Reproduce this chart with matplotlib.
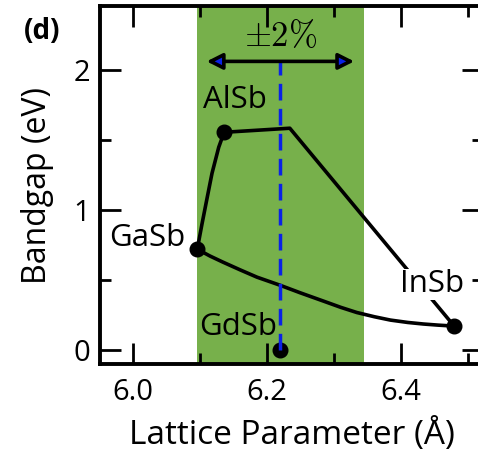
import matplotlib

matplotlib.use("Agg")
import matplotlib.pyplot as plt
from matplotlib.ticker import MultipleLocator

plt.rcParams["font.family"] = ["Open Sans", "DejaVu Sans"]
plt.rcParams["mathtext.fontset"] = "cm"

# binary end points: lattice parameter (Å), bandgap (eV)
names = ["AlSb", "GaSb", "InSb", "GdSb"]
lattice = [6.136, 6.096, 6.479, 6.220]
gap = [1.557, 0.721, 0.171, 0.0]

# ternary alloy curves
alga_x = [6.136, 6.128, 6.118, 6.110, 6.103, 6.096]
alga_y = [1.557, 1.45, 1.264, 1.071, 0.90, 0.721]
alin_x = [6.136, 6.234, 6.479]
alin_y = [1.557, 1.586, 0.171]
gain_x = [6.096, 6.115, 6.134, 6.160, 6.185, 6.219, 6.249, 6.284,
          6.310, 6.334, 6.360, 6.384, 6.410, 6.433, 6.455, 6.479]
gain_y = [0.721, 0.672, 0.629, 0.573, 0.521, 0.464, 0.410, 0.350,
          0.305, 0.268, 0.238, 0.214, 0.197, 0.186, 0.178, 0.171]

gdsb_a = 6.22
strain = 0.02

green = "#77b04b"
blue = "#0a22e6"

fig = plt.figure(figsize=(4.78, 4.55), dpi=100)
ax = fig.add_axes([0.2092, 0.2, 0.8013, 0.7868])

ax.axvspan(gdsb_a * (1 - strain), gdsb_a * (1 + strain), color=green, lw=0, zorder=0)

for xs, ys in [(alga_x, alga_y), (alin_x, alin_y), (gain_x, gain_y)]:
    ax.plot(xs, ys, color="black", lw=2.6, zorder=2, solid_capstyle="round",
            solid_joinstyle="round")

ax.plot(lattice, gap, "o", color="black", ms=10.5, zorder=3)

# GdSb lattice match line and the +-2% arrow
ax.plot([gdsb_a, gdsb_a], [0.0, 2.064], color=blue, lw=2.5, ls=(0, (4.8, 2.4)), zorder=4)
ax.annotate("", xy=(6.110, 2.064), xytext=(6.330, 2.064),
            arrowprops=dict(arrowstyle="<|-|>,head_length=0.95,head_width=0.48",
                            fc=blue, ec="black", lw=2.6, shrinkA=0, shrinkB=0),
            zorder=5)
ax.text(gdsb_a, 2.235, r"$\pm 2\%$", ha="center", va="center", fontsize=25)

label_pos = {"AlSb": (6.152, 1.786), "GaSb": (6.022, 0.80),
             "InSb": (6.446, 0.47), "GdSb": (6.157, 0.164)}
for n in names:
    x, y = label_pos[n]
    kw = {}
    if n == "InSb":
        kw["bbox"] = dict(fc="white", ec="none", pad=0.3)
    ax.text(x, y, n, ha="center", va="center", fontsize=22.5, zorder=6, **kw)

ax.set_xlim(5.951, 6.522)
ax.set_ylim(-0.1, 2.46)
ax.xaxis.set_major_locator(MultipleLocator(0.2))
ax.xaxis.set_minor_locator(MultipleLocator(0.1))
ax.yaxis.set_major_locator(MultipleLocator(1))
ax.yaxis.set_minor_locator(MultipleLocator(0.5))
ax.xaxis.set_major_formatter(matplotlib.ticker.FormatStrFormatter("%.1f"))
ax.tick_params(which="both", direction="in", top=True, right=True, width=2, labelsize=21)
ax.tick_params(which="major", length=15, pad=7)
ax.tick_params(axis="x", which="major", pad=10)
ax.tick_params(which="minor", length=8)
for s in ax.spines.values():
    s.set_linewidth(2.8)

ax.set_xlabel("Lattice Parameter (Å)", fontsize=24, labelpad=8)
ax.set_ylabel("Bandgap (eV)", fontsize=23, labelpad=14)

fig.text(0.088, 0.93, "(d)", fontsize=20, fontweight="bold", ha="center", va="center")

fig.savefig("out.png", dpi=100)
